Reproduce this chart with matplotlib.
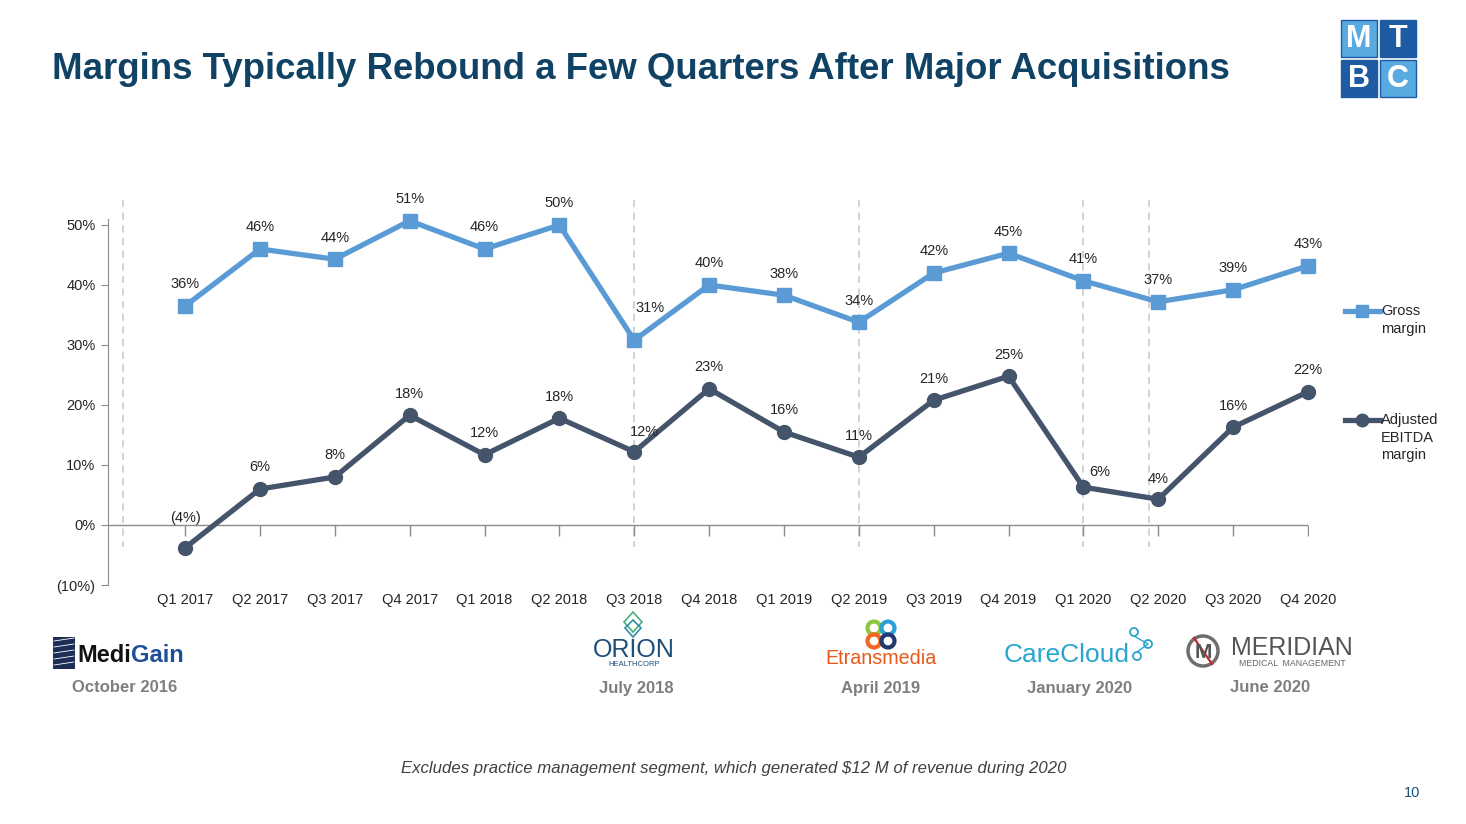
import matplotlib
matplotlib.use('Agg')
import matplotlib.pyplot as plt
from matplotlib.patches import Rectangle, Circle, Polygon

# quarterly margins, in percent
quarters = ['Q1 2017', 'Q2 2017', 'Q3 2017', 'Q4 2017', 'Q1 2018', 'Q2 2018', 'Q3 2018', 'Q4 2018',
            'Q1 2019', 'Q2 2019', 'Q3 2019', 'Q4 2019', 'Q1 2020', 'Q2 2020', 'Q3 2020', 'Q4 2020']
gross_margin = [36.5, 46.0, 44.3, 50.7, 46.0, 50.0, 30.8, 40.0, 38.3, 33.8, 42.0, 45.3, 40.7, 37.2, 39.2, 43.2]
ebitda_margin = [-3.8, 6.0, 8.0, 18.3, 11.7, 17.8, 12.2, 22.7, 15.5, 11.3, 20.8, 24.8, 6.3, 4.3, 16.3, 22.2]

# acquisitions, position measured in quarters from Q1 2017
acq_names = ['MediGain', 'Orion HealthCorp', 'Etransmedia', 'CareCloud', 'Meridian']
acq_dates = ['October 2016', 'July 2018', 'April 2019', 'January 2020', 'June 2020']
acq_quarter = [-0.83, 6.0, 9.0, 12.0, 12.87]

y_ticks = [-10, 0, 10, 20, 30, 40, 50]

W, H = 1466, 824
LIGHT = '#5B9BD5'
DARK = '#44546A'
GREY = '#8C8C8C'
TXT = '#262626'

plt.rcParams['font.family'] = ['Liberation Sans', 'DejaVu Sans']


def pct(v):
    r = int(round(v))
    return '(%d%%)' % abs(r) if r < 0 else '%d%%' % r


fig = plt.figure(figsize=(W / 100, H / 100), dpi=100)

# decoration layer in pixel coordinates
deco = fig.add_axes([0, 0, 1, 1])
deco.set_xlim(0, W)
deco.set_ylim(H, 0)
deco.axis('off')

ax = fig.add_axes([108 / W, 1 - 585 / H, 1200 / W, 366 / H])
x = list(range(len(quarters)))
ax.set_xlim(-1.03, len(quarters) - 1)
ax.set_ylim(-10, 51)

for q in acq_quarter:
    ax.plot([q, q], [54.2, -3.6], ls=(0, (4, 3)), color='#CFCFCF', lw=1.3, clip_on=False, zorder=1)

ax.axhline(0, color=GREY, lw=1, zorder=1)
ax.plot(x, [0] * len(x), ls='none', marker=3, ms=8, mew=1, color=GREY, zorder=1)

ax.plot(x, gross_margin, color=LIGHT, lw=3.8, marker='s', ms=10, clip_on=False, zorder=3)
ax.plot(x, ebitda_margin, color=DARK, lw=3.8, marker='o', ms=10, clip_on=False, zorder=3)

gross_off = {6: (11, 23)}
ebitda_off = {0: (0, 21.5), 6: (7, 14.5), 12: (11.5, 11), 13: (0, 14.5)}
for i, v in enumerate(gross_margin):
    ax.annotate(pct(v), (i, v), xytext=gross_off.get(i, (0, 15.5)), textcoords='offset points',
                ha='center', va='center', fontsize=10.5, color=TXT, zorder=4)
for i, v in enumerate(ebitda_margin):
    ax.annotate(pct(v), (i, v), xytext=ebitda_off.get(i, (0, 15.5)), textcoords='offset points',
                ha='center', va='center', fontsize=10.5, color=TXT, zorder=4)

ax.set_yticks(y_ticks)
ax.set_yticklabels(['(%d%%)' % -t if t < 0 else '%d%%' % t for t in y_ticks])
ax.set_xticks(x)
ax.set_xticklabels(quarters)
ax.tick_params(axis='y', length=5, color=GREY, labelsize=10.5, labelcolor=TXT, pad=4)
ax.tick_params(axis='x', length=0, labelsize=10.5, labelcolor=TXT, pad=6)
for s in ['top', 'right', 'bottom']:
    ax.spines[s].set_visible(False)
ax.spines['left'].set_color(GREY)
ax.patch.set_visible(False)

# legend
deco.plot([1345, 1362, 1380], [311, 311, 311], color=LIGHT, lw=3.8, marker='s', ms=9, markevery=[1])
deco.text(1381, 311, 'Gross', fontsize=10.5, color=TXT, va='center', ha='left')
deco.text(1381, 329, 'margin', fontsize=10.5, color=TXT, va='center', ha='left')
deco.plot([1345, 1362, 1380], [420, 420, 420], color=DARK, lw=3.8, marker='o', ms=9, markevery=[1])
for k, line in enumerate(['Adjusted', 'EBITDA', 'margin']):
    deco.text(1381, 420 + 17.5 * k, line, fontsize=10.5, color=TXT, va='center', ha='left')

# title
deco.text(52, 79, 'Margins Typically Rebound a Few Quarters After Major Acquisitions',
          fontsize=26.4, fontweight='bold', color='#0F4264', va='baseline', ha='left')

# MTBC logo
for (lx, ly, letter, col) in [(1341, 20, 'M', '#5AAAE2'), (1380, 20, 'T', '#1E5BA3'),
                              (1341, 60, 'B', '#1E5BA3'), (1380, 60, 'C', '#5AAAE2')]:
    deco.add_patch(Rectangle((lx, ly), 36, 37, facecolor=col, edgecolor='#1E5BA3', lw=1))
    deco.text(lx + 18, ly + 19, letter, fontsize=22, fontweight='bold', color='white',
              ha='center', va='center')

# acquisition logos (approximations)
deco.add_patch(Rectangle((53, 637), 22, 32, facecolor='#1D2D55', edgecolor='none'))
for yy in range(641, 669, 6):
    deco.plot([54, 74], [yy, yy - 3], color='white', lw=0.6)
t1 = deco.text(77, 662, 'Medi', fontsize=17, fontweight='bold', color='#111111',
               va='baseline', ha='left')
deco.annotate('Gain', xy=(1, 0), xycoords=t1, fontsize=17, fontweight='bold',
              color='#1F4E9A', va='bottom', ha='left')

deco.add_patch(Polygon([[633, 612], [642, 622], [633, 632], [624, 622]], closed=True, fill=False,
                       edgecolor='#4AAE7A', lw=1.2))
deco.add_patch(Polygon([[633, 620], [641, 628], [633, 637], [625, 628]], closed=True, fill=False,
                       edgecolor='#2D8FA8', lw=1.2))
deco.text(634, 650, 'ORION', fontsize=18, color='#1F4E79', ha='center', va='center')
deco.text(634, 665, 'HEALTHCORP', fontsize=5.5, color='#1F4E79', ha='center', va='center')

for (cx, cy, col) in [(874, 628, '#8DC63F'), (888, 628, '#2A9FD8'), (874, 641, '#F26522'),
                      (888, 641, '#1F3A6E')]:
    deco.add_patch(Circle((cx, cy), 6.5, fill=False, edgecolor=col, lw=3))
deco.text(881, 659, 'Etransmedia', fontsize=14.2, color='#E8591A', ha='center', va='center')

deco.text(1067, 655, 'CareCloud', fontsize=19, color='#2AA5CF', ha='center', va='center')
for (cx, cy) in [(1134, 632), (1148, 644), (1137, 656)]:
    deco.add_patch(Circle((cx, cy), 4, fill=False, edgecolor='#2AA5CF', lw=1.3))
deco.plot([1134, 1148, 1137], [636, 644, 652], color='#2AA5CF', lw=1)

deco.add_patch(Circle((1203, 651), 15, fill=False, edgecolor='#6E6E6E', lw=2.5))
deco.text(1203, 652, 'M', fontsize=15, fontweight='bold', color='#555555', ha='center', va='center')
deco.plot([1194, 1212], [638, 664], color='#C0282D', lw=1.6)
deco.text(1292, 648, 'MERIDIAN', fontsize=18, color='#555555', ha='center', va='center')
deco.text(1292, 664, 'MEDICAL  MANAGEMENT', fontsize=6.3, color='#666666', ha='center', va='center')

date_x = [125, 636, 881, 1080, 1270]
for dx, d in zip(date_x, acq_dates):
    deco.text(dx, 688, d, fontsize=12, fontweight='bold', color='#7F7F7F', ha='center', va='center')

deco.text(734, 768, 'Excludes practice management segment, which generated $12 M of revenue during 2020',
          fontsize=12.1, style='italic', color='#404040', ha='center', va='center')
deco.text(1420, 793, '10', fontsize=10.5, color='#1F4E79', ha='right', va='center')

fig.savefig('out.png', dpi=100)
